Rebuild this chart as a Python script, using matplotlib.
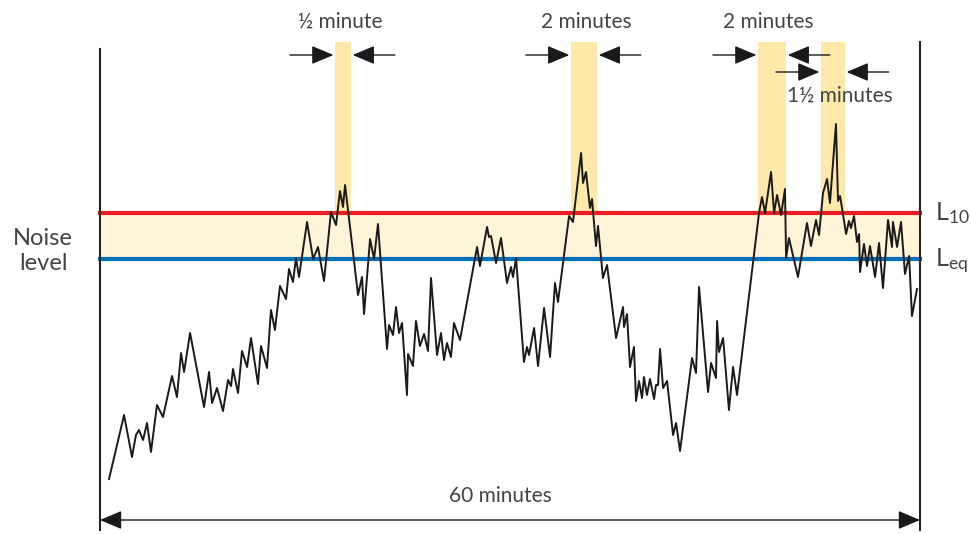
import matplotlib
matplotlib.use("Agg")
import matplotlib.pyplot as plt

plt.rcParams["font.family"] = ["Lato", "DejaVu Sans"]
plt.rcParams["mathtext.fontset"] = "custom"
plt.rcParams["mathtext.rm"] = "Lato"

# noise trace: time in minutes, level in dB
minutes = [
    0.66, 1.76, 2.34, 2.63, 2.85, 3.15, 3.44, 3.73, 4.17, 4.61, 5.27, 5.63, 5.93, 6.15, 6.59,
    7.61, 7.98, 8.20, 8.56, 9.00, 9.37, 9.59, 9.73, 10.10, 10.39, 10.76, 11.05, 11.56, 11.78,
    12.22, 12.51, 12.80, 13.17, 13.61, 13.83, 14.12, 14.34, 14.56, 15.15, 15.59, 15.95, 16.39,
    16.90, 17.27, 17.56, 17.78, 17.93, 18.88, 19.17, 19.32, 19.76, 20.05, 20.34, 21.00, 21.15,
    21.44, 21.66, 21.88, 22.10, 22.46, 22.54, 22.90, 23.12, 23.41, 23.71, 24.00, 24.22, 24.66,
    24.95, 25.17, 25.39, 25.68, 25.90, 26.34, 27.59, 27.80, 28.32, 28.46, 28.61, 28.98, 29.34,
    29.78, 30.07, 30.22, 30.44, 31.02, 31.24, 31.39, 31.76, 32.05, 32.49, 32.93, 33.29, 33.51,
    34.32, 34.61, 35.20, 35.34, 35.56, 35.85, 36.00, 36.29, 36.44, 36.80, 37.10, 37.76, 38.27,
    38.34, 38.56, 38.78, 39.07, 39.22, 39.44, 39.66, 39.80, 40.02, 40.24, 40.54, 40.68, 40.83,
    40.98, 41.20, 41.49, 41.93, 42.15, 42.44, 43.32, 43.61, 43.83, 44.49, 44.71, 45.07, 45.15,
    45.29, 45.59, 46.02, 46.32, 46.61, 48.22, 48.44, 48.66, 49.10, 49.32, 49.54, 49.83, 50.12,
    50.20, 50.41, 51.07, 51.73, 52.02, 52.39, 52.61, 52.90, 53.20, 53.41, 53.85, 54.00, 54.15,
    54.59, 54.80, 54.95, 55.17, 55.39, 55.54, 55.61, 55.90, 56.12, 56.34, 56.71, 57.00, 57.29,
    57.66, 57.95, 58.02, 58.32, 58.61, 58.90, 59.20, 59.41, 59.78,
]
levels = [
    52.1, 58.5, 54.3, 56.5, 57.0, 56.0, 57.7, 54.8, 59.5, 58.3, 62.4, 60.3, 64.7, 62.8, 66.7,
    59.3, 62.8, 59.7, 61.2, 58.9, 62.0, 61.4, 63.1, 60.7, 64.9, 63.3, 66.2, 61.6, 65.4,
    63.2, 69.0, 67.0, 71.4, 70.1, 73.1, 71.8, 74.2, 72.3, 77.8, 74.1, 75.3, 71.9,
    78.8, 77.5, 80.9, 79.3, 81.5, 70.5, 72.3, 68.6, 76.1, 74.1, 77.6, 65.1, 67.5,
    66.5, 69.3, 66.7, 67.7, 60.5, 64.6, 63.4, 67.9, 65.4, 66.6, 64.9, 72.2, 64.5,
    66.7, 64.0, 65.7, 64.3, 67.7, 66.0, 75.3, 73.4, 77.3, 76.3, 76.4, 73.7, 76.2,
    71.7, 73.3, 72.3, 74.2, 63.8, 65.3, 64.5, 67.2, 63.4, 69.2, 64.3, 71.7, 69.8,
    78.4, 77.8, 84.7, 81.7, 82.8, 79.2, 80.1, 75.4, 77.4, 72.2, 73.5, 66.2, 69.3,
    67.3, 68.6, 63.3, 65.3, 59.9, 61.9, 60.2, 62.3, 60.5, 62.1, 60.1, 61.5, 61.5,
    65.1, 61.2, 61.9, 56.5, 57.7, 54.9, 64.2, 62.7, 71.3, 60.8, 63.7, 62.2, 67.9,
    64.8, 66.2, 59.0, 63.3, 60.5, 78.7, 80.3, 78.7, 82.8, 78.7, 80.5, 78.5, 81.1,
    74.2, 76.2, 72.3, 77.7, 75.4, 78.0, 76.5, 80.7, 82.1, 79.7, 87.6, 79.9, 80.4,
    76.6, 77.9, 77.2, 78.4, 75.8, 76.6, 72.8, 75.6, 73.4, 75.4, 72.3, 75.7, 71.2,
    78.0, 75.3, 77.8, 75.3, 77.8, 72.6, 74.4, 68.4, 71.1,
]

L10 = 78.7
Leq = 74.1
duration = 60

# highlighted periods above L10 (start, end in minutes) and their labels
band_start = [17.20, 34.46, 48.15, 52.76]
band_end = [18.37, 36.37, 50.20, 54.51]
band_labels = ["½ minute", "2 minutes", "2 minutes", "1½ minutes"]

red = "#ec1c24"
blue = "#0072bc"
pale = "#fef4d8"
gold = "#fee9ab"
ink = "#444444"

fig = plt.figure(figsize=(9.71, 5.34), dpi=100)
ax = fig.add_axes([0, 0, 1, 1])
ax.set_xlim(-7.317, 63.73)
ax.set_ylim(46.6, 100)
ax.set_axis_off()

top = 95.8
ax.fill_between([0, duration], Leq, L10, color=pale, lw=0, zorder=1)
for s, e in zip(band_start, band_end):
    ax.fill_between([s, e], L10, top, color=gold, lw=0, zorder=1)

ax.plot([0, duration], [L10, L10], color=red, lw=3, zorder=2)
ax.plot([0, duration], [Leq, Leq], color=blue, lw=3, zorder=2)
ax.plot(minutes, levels, color="#1a1a1a", lw=1.4, zorder=3)

ax.plot([0, 0], [47.0, 95.1], color="#222222", lw=1.5, zorder=2)
ax.plot([duration, duration], [47.0, top], color="#222222", lw=1.5, zorder=2)

arrow = dict(arrowstyle="-|>,head_length=0.9,head_width=0.38", color="#1a1a1a",
             lw=1.0, shrinkA=0, shrinkB=0, mutation_scale=15)

# width markers around each highlighted period
rows = [94.5, 94.5, 94.5, 92.8]
for s, e, y in zip(band_start, band_end, rows):
    ax.annotate("", xy=(s - 0.12, y), xytext=(s - 3.3, y), arrowprops=arrow)
    ax.annotate("", xy=(e + 0.12, y), xytext=(e + 3.2, y), arrowprops=arrow)

label_x = [17.56, 35.56, 48.88, 54.15]
label_y = [97.8, 97.8, 97.8, 90.4]
for txt, x, y in zip(band_labels, label_x, label_y):
    ax.text(x, y, txt, ha="center", va="center", fontsize=15, color=ink)

both = dict(arrowstyle="<|-|>,head_length=0.9,head_width=0.38", color="#1a1a1a",
            lw=1.0, shrinkA=0, shrinkB=0, mutation_scale=15)
ax.annotate("", xy=(0, 48.0), xytext=(duration, 48.0), arrowprops=both)
ax.text(duration / 2 - 0.7, 50.4, f"{duration} minutes", ha="center", va="center",
        fontsize=15, color=ink)

ax.text(-4.17, 74.9, "Noise\nlevel", ha="center", va="center", fontsize=17,
        color=ink, linespacing=1.25)
ax.text(61.1, L10, r"$\mathregular{L_{10}}$", ha="left", va="center", fontsize=18, color=ink)
ax.text(61.1, Leq - 0.2, r"$\mathregular{L_{eq}}$", ha="left", va="center", fontsize=18, color=ink)

fig.savefig("out.png", dpi=100)
